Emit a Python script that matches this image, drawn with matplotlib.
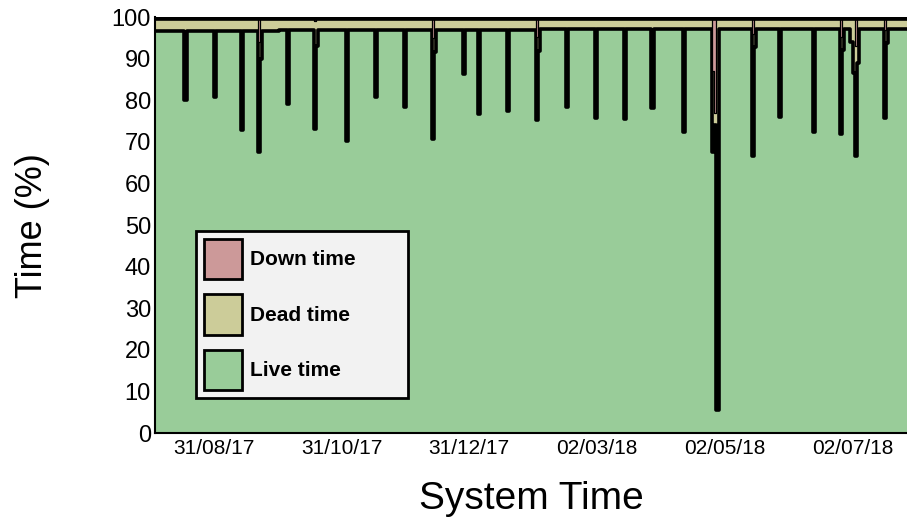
import numpy as np
import pandas as pd
import matplotlib
matplotlib.use('Agg')
import matplotlib.pyplot as plt
from matplotlib.patches import Patch

plt.rcParams['font.family'] = ['Liberation Sans', 'DejaVu Sans']

# monthly baseline of the live time (%)
month_starts = ['2017-08-01', '2017-09-01', '2017-10-01', '2017-11-01', '2017-12-01', '2018-01-01',
                '2018-02-01', '2018-03-01', '2018-04-01', '2018-05-01', '2018-06-01', '2018-07-01']
month_live = [96.6, 96.7, 96.8, 96.9, 97.0, 97.0, 97.1, 97.1, 97.1, 97.1, 97.1, 97.1]

# days with calibration runs / problems
event_dates = ['2017-08-17', '2017-08-31', '2017-09-13', '2017-09-21', '2017-09-22',
               '2017-10-05', '2017-10-18', '2017-10-19', '2017-11-02', '2017-11-16',
               '2017-11-30', '2017-12-13', '2017-12-14', '2017-12-28', '2018-01-04',
               '2018-01-18', '2018-02-01', '2018-02-02', '2018-02-15', '2018-03-01',
               '2018-03-15', '2018-03-28', '2018-04-12', '2018-04-26', '2018-04-27',
               '2018-04-28', '2018-05-15', '2018-05-16', '2018-05-28', '2018-06-13',
               '2018-06-26', '2018-06-27', '2018-07-01', '2018-07-02', '2018-07-03',
               '2018-07-04', '2018-07-17', '2018-07-18']
event_live = [80.0, 80.7, 72.8, 67.5, 90.0,
              79.0, 73.2, 93.0, 70.2, 80.7,
              78.5, 70.8, 91.5, 86.3, 76.8,
              77.4, 75.2, 91.8, 78.5, 75.8,
              75.4, 78.2, 72.4, 67.6, 74.0,
              5.5, 66.5, 92.9, 75.9, 72.4,
              71.9, 92.0, 94.0, 86.5, 66.7,
              89.0, 75.8, 93.7]
event_down = [0, 0, 0, 6.0, 0,
              0, 1.0, 0, 0, 0,
              0, 5.0, 0, 0, 0,
              0, 4.7, 0, 0, 0,
              0, 0, 0, 13.0, 23.0,
              0, 4.0, 0, 0, 0,
              4.7, 0, 0, 0, 7.0,
              0, 3.0, 0]

tick_dates = ['2017-08-31', '2017-10-31', '2017-12-31', '2018-03-02', '2018-05-02', '2018-07-02']
tick_labels = ['31/08/17', '31/10/17', '31/12/17', '02/03/18', '02/05/18', '02/07/18']

days = pd.date_range('2017-08-03', '2018-07-28', freq='D')
s_live = pd.Series(np.nan, index=days)
for m, v in zip(pd.to_datetime(month_starts), month_live):
    s_live[(days.year == m.year) & (days.month == m.month)] = v
s_down = pd.Series(0.0, index=days)
for d, lv, dn in zip(pd.to_datetime(event_dates), event_live, event_down):
    s_live[d] = lv
    s_down[d] = dn
live = s_live.values
down = s_down.values
dead = 100 - live - down

green = '#99cc99'
khaki = '#cccc99'
pink = '#cc9999'

fig = plt.figure(figsize=(9.07, 5.18), dpi=100)
ax = fig.add_axes([0.171, 0.164, 0.829, 0.803])

ax.fill_between(days, 0, live, step='post', color=green, lw=0, zorder=1)
ax.fill_between(days, live, live + dead, step='post', color=khaki, lw=0, zorder=1)
ax.step(days, live, where='post', color='black', lw=2.6, zorder=2)
# down time drawn on top of the live edge
ax.fill_between(days, live + dead, 100, step='post', color=pink, lw=0, zorder=3)
ax.step(days, live + dead, where='post', color='black', lw=0.9, zorder=4)
ax.step(days, live + dead + down, where='post', color='black', lw=5.5, zorder=4)

ax.set_xlim(days[0], days[-1])
ax.set_ylim(0, 100)
ax.set_yticks(np.arange(0, 101, 10))
ax.set_xticks(pd.to_datetime(tick_dates))
ax.set_xticklabels(tick_labels)
ax.tick_params(axis='both', length=0)
ax.tick_params(axis='y', labelsize=17, pad=3)
ax.tick_params(axis='x', labelsize=15, pad=4)
for sp in ['top', 'right']:
    ax.spines[sp].set_visible(False)
for sp in ['left', 'bottom']:
    ax.spines[sp].set_linewidth(1.5)
    ax.spines[sp].set_zorder(5)

ax.set_ylabel('Time (%)', fontsize=26, labelpad=44)
ax.set_xlabel('System Time', fontsize=28, labelpad=17)

handles = [Patch(facecolor=pink, edgecolor='black', lw=2, label='Down time'),
           Patch(facecolor=khaki, edgecolor='black', lw=2, label='Dead time'),
           Patch(facecolor=green, edgecolor='black', lw=2, label='Live time')]
leg = ax.legend(handles=handles, loc='lower left', mode='expand',
                bbox_to_anchor=(0.055, 0.084, 0.281, 0.404), borderaxespad=0,
                prop={'size': 15, 'weight': 'bold'}, handlelength=1.8, handleheight=2.58,
                labelspacing=0.75, handletextpad=0.4, borderpad=0.38,
                fancybox=False, framealpha=1)
leg.get_frame().set_facecolor('#f2f2f2')
leg.get_frame().set_edgecolor('black')
leg.get_frame().set_linewidth(2)
leg.set_zorder(6)

fig.savefig('out.png', dpi=100)
